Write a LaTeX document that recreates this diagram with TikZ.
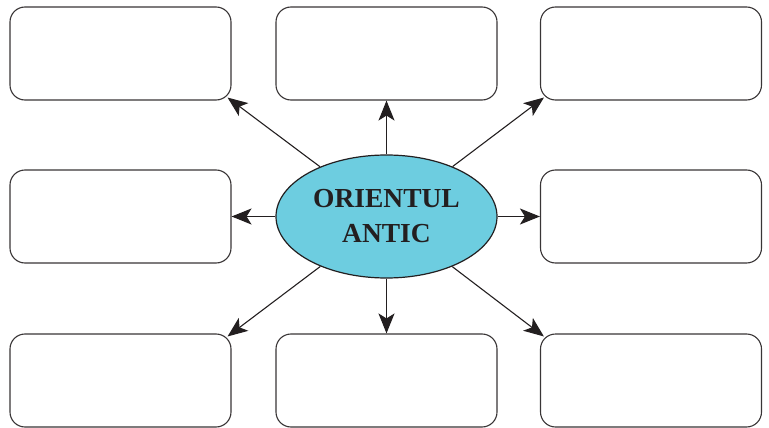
\documentclass[tikz,border=0pt]{standalone}
\usepackage{fontspec}
\setmainfont{Liberation Serif}
\usetikzlibrary{shapes.geometric,arrows.meta}
\definecolor{cyanfill}{HTML}{6DCDE0}
\definecolor{ink}{HTML}{231F20}
\tikzset{
  emptybox/.style={draw=ink!90, line width=1.1pt, rounded corners=15pt, minimum width=221pt, minimum height=93pt, inner sep=0pt, fill=white},
  centre/.style={ellipse, draw=ink, line width=1.2pt, fill=cyanfill, minimum width=221pt, minimum height=123pt, inner sep=0pt, align=center, text=ink, font=\fontsize{27.5}{35}\selectfont\bfseries},
  link/.style={draw=ink, line width=1.1pt, -{Stealth[length=20pt,width=16pt,inset=5pt]}}
}
\begin{document}
\begin{tikzpicture}[x=1pt,y=-1pt]
\useasboundingbox (0,0) rectangle (769,428);
\node[emptybox] (b1) at (120.5,53.5) {};
\node[emptybox] (b2) at (386.5,53.5) {};
\node[emptybox] (b3) at (651,53.5) {};
\node[emptybox] (b4) at (120.5,216.5) {};
\node[emptybox] (b5) at (651,216.5) {};
\node[emptybox] (b6) at (120.5,380.5) {};
\node[emptybox] (b7) at (386.5,380.5) {};
\node[emptybox] (b8) at (651,380.5) {};
\node[centre] (e) at (386.5,216.5) {ORIENTUL\\ANTIC};
\draw[link] (e.north) -- (b2.south);
\draw[link] (e.south) -- (b7.north);
\draw[link] (e.west) -- (b4.east);
\draw[link] (e.east) -- (b5.west);
\draw[link, shorten >=-5pt] (e) -- (b1.south east);
\draw[link, shorten >=-5pt] (e) -- (b3.south west);
\draw[link, shorten >=-5pt] (e) -- (b6.north east);
\draw[link, shorten >=-5pt] (e) -- (b8.north west);
\end{tikzpicture}
\end{document}
